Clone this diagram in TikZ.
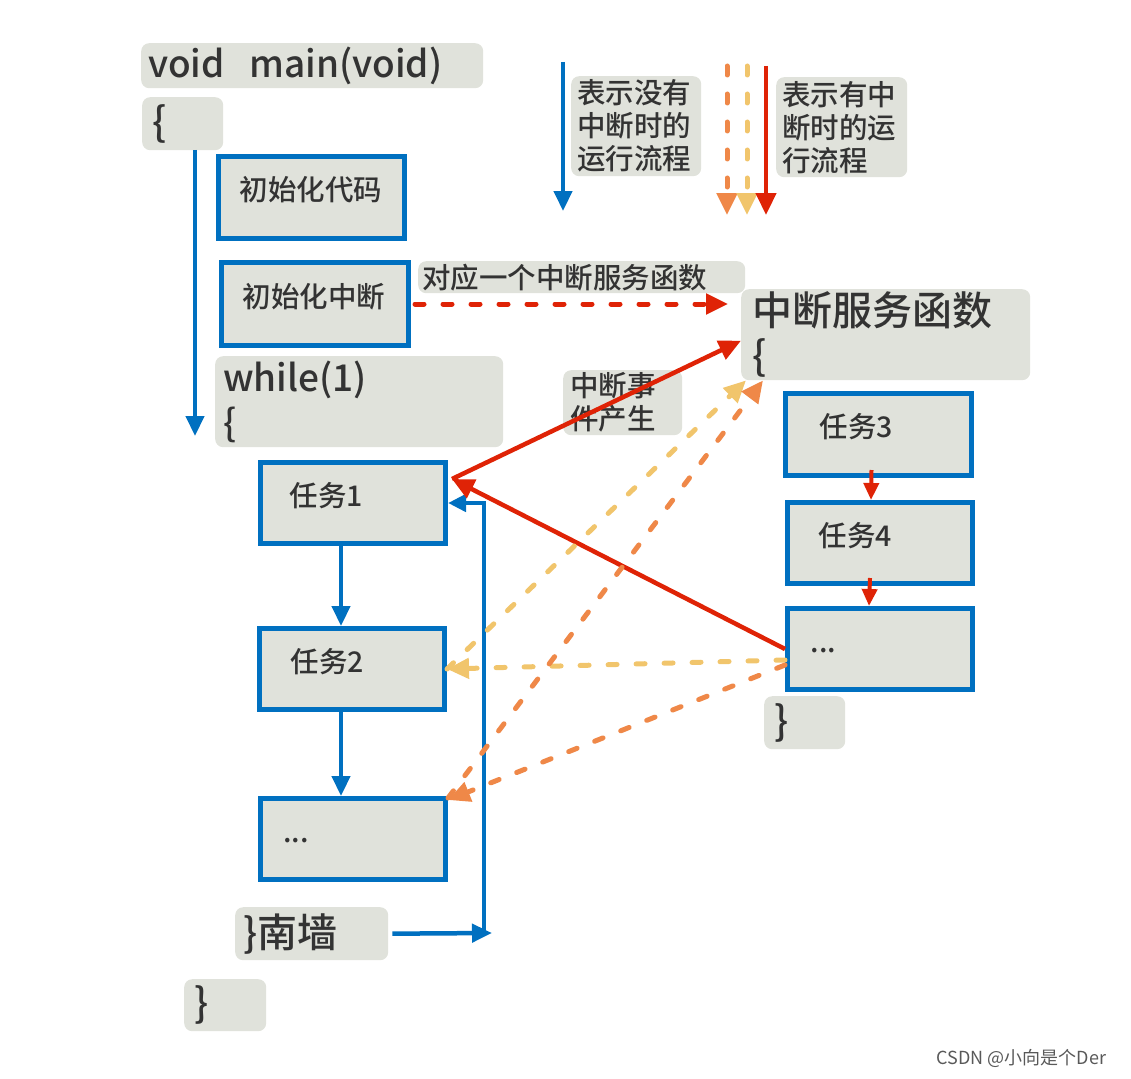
\documentclass[tikz,border=0pt]{standalone}
\usepackage{fontspec}
\setmainfont{Noto Sans CJK SC}[UprightFont={* Medium}]
\newfontfamily\creditfont{Noto Sans CJK SC}
\usepackage{tikz}
\usetikzlibrary{arrows.meta}
\usetikzlibrary{positioning}
\usetikzlibrary{calc}

\definecolor{flowblue}{HTML}{0070C0}
\definecolor{irqred}{HTML}{DF2306}
\definecolor{irqorange}{HTML}{EF8848}
\definecolor{irqyellow}{HTML}{F1C56C}
\definecolor{boxgray}{HTML}{E0E2DB}
\definecolor{inkgray}{HTML}{333333}

\newcommand{\bigtxt}{\fontsize{40pt}{45pt}\selectfont}
\newcommand{\codetxt}{\fontsize{37pt}{45pt}\selectfont}
\newcommand{\midtxt}{\fontsize{28.5pt}{33pt}\selectfont}

\tikzset{
    codebox/.style={fill=boxgray, rounded corners=8pt, anchor=north west, align=left,
        inner ysep=0pt, text=inkgray, font=\bigtxt},
    notebox/.style={codebox, font=\midtxt},
    taskbox/.style={draw=flowblue, line width=5pt, fill=boxgray, anchor=north west, align=left,
        inner ysep=0pt, text=inkgray, font=\midtxt, text height=22pt, text depth=16pt},
    noirq/.style={draw=flowblue, line width=4.5pt, -{Triangle[length=20pt,width=18pt]}},
    irq/.style={draw=irqred, line width=4.5pt, -{Triangle[length=22pt,width=20pt]}},
    irqsmall/.style={draw=irqred, line width=4pt, -{Triangle[length=17pt,width=15pt]}},
    irqdash/.style={irq, line width=5pt, dash pattern=on 9pt off 19pt, line cap=round},
    backyellow/.style={draw=irqyellow, line width=5pt, dash pattern=on 9pt off 19pt, line cap=round,
        -{Triangle[length=22pt,width=20pt]}},
    backorange/.style={draw=irqorange, line width=5pt, dash pattern=on 9pt off 19pt, line cap=round,
        -{Triangle[length=22pt,width=20pt]}},
}

\begin{document}
\begin{tikzpicture}[x=1pt, y=-1pt]
	\useasboundingbox (0,0) rectangle (1131,1078);
	% main()
	\node[codebox, font=\codetxt, inner xsep=7pt, text width=328pt, minimum height=45pt] (main) at (141,43) {void~~main(void)};
	\node[codebox, inner xsep=10pt, text width=61pt, minimum height=53pt] (lbrace) at (142,97) {\{};
	\node[taskbox, inner xsep=21pt, text width=144pt, minimum height=82pt] (initcode) at (216,154) {初始化代码};
	\node[taskbox, inner xsep=21pt, text width=145pt, minimum height=83pt] (initirq) at (219,260) {初始化中断};
	\node[codebox, font=\codetxt, inner xsep=8pt, text width=272pt, minimum height=91pt] (loop) at (215,356) {while(1)\\\{};
	\node[taskbox, inner xsep=29pt, text width=127pt, minimum height=81pt] (task1) at (258,460) {任务1};
	\node[taskbox, inner xsep=31pt, text width=123pt, minimum height=81pt] (task2) at (257,626) {任务2};
	\node[taskbox, inner xsep=23pt, text width=139pt, minimum height=81pt] (taskn) at (258,796) {...};
	\node[codebox, inner xsep=8pt, text width=137pt, minimum height=53pt] (tail) at (235,907) {\}南墙};
	\node[codebox, inner xsep=10pt, text width=62pt, minimum height=52pt] (endbrace) at (184,979) {\}};
	% ISR
	\node[notebox, inner xsep=4pt, text width=319pt, minimum height=32pt] (bind) at (418,261) {对应一个中断服务函数};
	\node[codebox, inner xsep=11pt, text width=267pt, minimum height=91pt] (isr) at (741,289) {中断服务函数\\\{};
	\node[notebox, inner xsep=7pt, text width=105pt, minimum height=65pt] (event) at (563,370) {中断事\\件产生};
	\node[taskbox, inner xsep=34pt, text width=118pt, minimum height=82pt] (task3) at (783,391) {任务3};
	\node[taskbox, inner xsep=31pt, text width=123pt, minimum height=81pt] (task4) at (785,500) {任务4};
	\node[taskbox, inner xsep=23pt, text width=139pt, minimum height=81pt] (isrn) at (785,606) {...};
	\node[codebox, inner xsep=10pt, text width=61pt, minimum height=53pt] (isrend) at (764,696) {\}};
	% legend
	\node[notebox, inner xsep=6pt, text width=118pt, minimum height=100pt] (keyno) at (571,76) {表示没有\\中断时的\\运行流程};
	\node[notebox, inner xsep=6pt, text width=119pt, minimum height=100pt] (keyyes) at (776,77) {表示有中\\断时的运\\行流程};
	\coordinate (keyb0) at (563,62);
	\coordinate (keyb1) at (563,211);
	\coordinate (keyo0) at (727,66);
	\coordinate (keyo1) at (727,215);
	\coordinate (keyy0) at (747,66);
	\coordinate (keyy1) at (747,215);
	\coordinate (keyr0) at (766,66);
	\coordinate (keyr1) at (766,215);
	\draw[noirq] (keyb0) -- (keyb1);
	\draw[backorange] (keyo0) -- (keyo1);
	\draw[backyellow] (keyy0) -- (keyy1);
	\draw[irq] (keyr0) -- (keyr1);
	% normal flow
	\coordinate (flowtop) at (195,150);
	\coordinate (flowend) at (195,436);
	\draw[noirq] (flowtop) -- (flowend);
	\draw[noirq] ([xshift=-12pt]task1.south) -- ([xshift=-11pt]task2.north);
	\draw[noirq] ([xshift=-11pt]task2.south) -- ([xshift=-12pt]taskn.north);
	\coordinate (looptip) at (492,933);
	\coordinate (loopfoot) at (484,936);
	\draw[noirq, shorten <=4pt] (tail.east) -- (looptip);
	\draw[noirq, -{Triangle[length=18pt,width=17pt]}] (loopfoot) |- (task1.east);
	% interrupt flow
	\draw[irqdash, shorten <=4pt, shorten >=13pt] (initirq.east) -- (initirq.east -| isr.west);
	\draw[irq] ([xshift=4pt,yshift=-19pt]task1.north east) -- ([yshift=-6pt]isr.west);
	\draw[irq] (isrn.west) -- ([xshift=4pt,yshift=-19pt]task1.north east);
	\draw[irqsmall] ([xshift=-7pt,yshift=8pt]task3.south) -- ([xshift=-9pt]task4.north);
	\draw[irqsmall] ([xshift=-10pt,yshift=8pt]task4.south) -- ([xshift=-11pt]isrn.north);
	\draw[backyellow] (task2.east) -- ([xshift=5pt]isr.south west);
	\draw[backyellow] ([yshift=-11pt]isrn.west) -- (task2.east);
	\draw[backorange] ([yshift=-2pt]taskn.north east) -- ([xshift=22pt]isr.south west);
	\draw[backorange] ([yshift=-16pt]isrn.west) -- ([yshift=-4pt]taskn.north east);
	%
	\node[anchor=west, text=black!65, font=\creditfont\fontsize{18pt}{20pt}\selectfont] (credit) at (933,1058) {CSDN @小向是个Der};
\end{tikzpicture}
\end{document}
